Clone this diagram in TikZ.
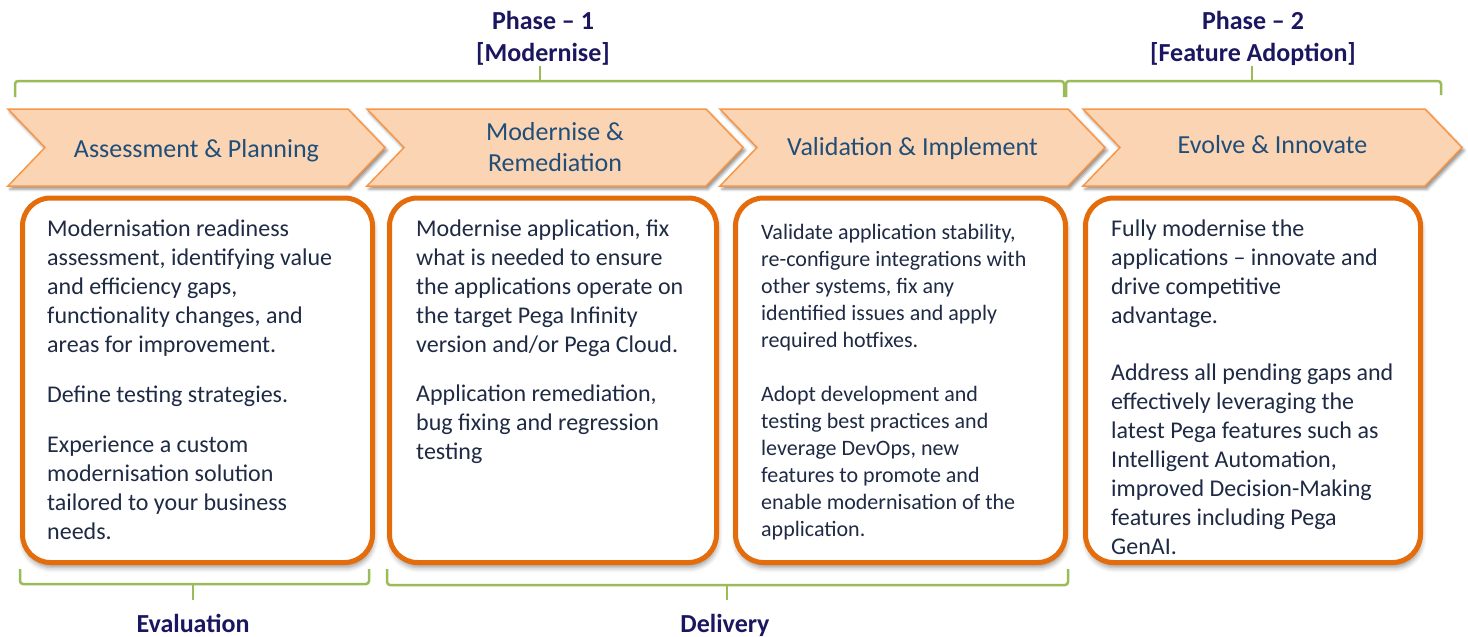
\documentclass[tikz,border=0pt]{standalone}
\usepackage{fontspec}
\setmainfont{Carlito}
\usepackage{xcolor}
\usetikzlibrary{shapes.geometric, positioning, calc, shadows.blur}

\definecolor{chevfill}{HTML}{FBD4B4}
\definecolor{chevline}{HTML}{F79646}
\definecolor{boxline}{HTML}{E46C0A}
\definecolor{bracketgreen}{HTML}{9BBB59}
\definecolor{headnavy}{HTML}{1A1760}
\definecolor{stepblue}{HTML}{1F4E79}
\definecolor{bodytext}{HTML}{1F2A44}

\tikzset{
  chevron/.style={fill=chevfill, draw=chevline, line width=1.5pt,
    blur shadow={shadow xshift=2pt, shadow yshift=-3pt, shadow blur radius=3pt, shadow opacity=45}},
  steplabel/.style={text=stepblue, font=\fontsize{26}{31}\selectfont, align=center, inner sep=0pt},
  panel/.style={draw=boxline, line width=5pt, fill=white, rounded corners=28pt, inner sep=0pt,
    blur shadow={shadow xshift=1pt, shadow yshift=-5pt, shadow blur radius=5pt, shadow opacity=40}},
  paneltext/.style={anchor=north west, align=left, inner sep=0pt, text=bodytext,
    font=\fontsize{24}{29}\selectfont},
  bracket/.style={draw=bracketgreen, line width=2.5pt, rounded corners=3pt},
  phasehead/.style={text=headnavy, font=\bfseries\fontsize{26}{32}\selectfont, inner sep=0pt, anchor=base},
}

\begin{document}
\begin{tikzpicture}[x=1pt, y=-1pt]
  \useasboundingbox (0,0) rectangle (1468,637);

  % phase headings and their brackets
  \node[phasehead] (ph1) at (543,29) {Phase \textendash{} 1};
  \node[phasehead] (ph1sub) at (543,61) {[Modernise]};
  \node[phasehead] (ph2) at (1253,29) {Phase \textendash{} 2};
  \node[phasehead] (ph2sub) at (1253,61) {[Feature Adoption]};

  \draw[bracket] (15,97) -- (15,81) -- (1064,81) -- (1064,97);
  \draw[bracket] (540,81) -- (540,66);
  \draw[bracket] (1066,97) -- (1066,81) -- (1441,81) -- (1441,95);
  \draw[bracket] (1252,81) -- (1252,66);

  % process chevrons
  \foreach \xa/\xb/\ty/\lbl [count=\i] in {8/385/151/{Assessment \& Planning}, 367/743/147/{Modernise \&\\Remediation},
      720/1105/149/{Validation \& Implement}, 1083/1462/145/{Evolve \& Innovate}} {
    \draw[chevron] (\xa,109) -- (\xb-37,109) -- (\xb,147.5) -- (\xb-37,186) -- (\xa,186) -- (\xa+37,147.5) -- cycle;
    \node[steplabel] (c\i) at ({(\xa+\xb)/2},\ty) {\lbl};
  }

  % description panels
  \node[panel, minimum width=350pt, minimum height=364.5pt] (b1) at (197.5,380.25) {};
  \node[panel, minimum width=327pt, minimum height=364.5pt] (b2) at (553,380.25) {};
  \node[panel, minimum width=330pt, minimum height=364.5pt] (b3) at (900.5,380.25) {};
  \node[panel, minimum width=335pt, minimum height=364.5pt] (b4) at (1253,380.25) {};

  \node[paneltext] (t1) at (47,220) {Modernisation readiness\\assessment, identifying value\\and efficiency gaps,\\functionality changes, and\\areas for improvement.\\[21pt]Define testing strategies.\\[21pt]Experience a custom\\modernisation solution\\tailored to your business\\needs.};
  \node[paneltext] (t2) at (416,220) {Modernise application, fix\\what is needed to ensure\\the applications operate on\\the target Pega Infinity\\version and/or Pega Cloud.\\[20pt]Application remediation,\\bug fixing and regression\\testing};
  \node[paneltext, font=\fontsize{22}{27}\selectfont] (t3) at (761,224) {Validate application stability,\\re-configure integrations with\\other systems, fix any\\identified issues and apply\\required hotfixes.\\[27pt]Adopt development and\\testing best practices and\\leverage DevOps, new\\features to promote and\\enable modernisation of the\\application.};
  \node[paneltext] (t4) at (1111,220) {Fully modernise the\\applications \textendash{} innovate and\\drive competitive\\advantage.\\[28pt]Address all pending gaps and\\effectively leveraging the\\latest Pega features such as\\Intelligent Automation,\\improved Decision-Making\\features including Pega\\GenAI.};

  % stage brackets below
  \draw[bracket] (20,569) -- (20,584) -- (369,584) -- (369,569);
  \draw[bracket] (193,584) -- (193,600);
  \draw[bracket] (387,569) -- (387,585) -- (1068,585) -- (1068,569);
  \draw[bracket] (727,585) -- (727,600);

  \node[phasehead] (eval) at (193,632) {Evaluation};
  \node[phasehead] (deliv) at (725,632) {Delivery};
\end{tikzpicture}
\end{document}
